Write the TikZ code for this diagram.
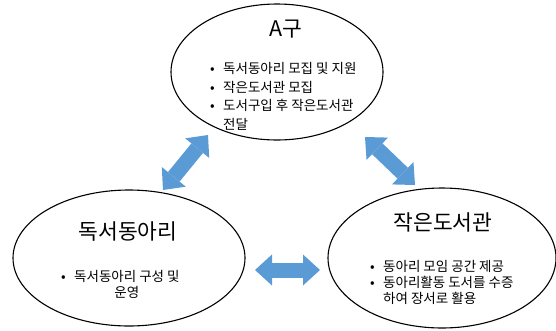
\documentclass[tikz,border=0pt]{standalone}
\usepackage{fontspec}
\setmainfont{Noto Sans CJK KR}
\usetikzlibrary{shapes.geometric}
\usetikzlibrary{arrows.meta}
\definecolor{arrblue}{RGB}{91,155,213}
\newcommand{\bul}{\makebox[13pt][l]{\textbullet}}
\tikzset{
  roundbox/.style={ellipse, draw=black, line width=1.1pt, inner sep=0pt},
  titletxt/.style={font=\fontsize{21.5}{24}\selectfont, inner sep=0pt},
  listtxt/.style={anchor=west, inner sep=0pt},
  blockarr/.style={arrblue, line width=15pt,
    {Triangle[length=17pt,width=31pt,line width=0pt]}-{Triangle[length=17pt,width=31pt,line width=0pt]}}
}

\begin{document}
\begin{tikzpicture}[x=1pt, y=-1pt]
\useasboundingbox (0,0) rectangle (556,330);
% ellipses
\node[roundbox, minimum width=212pt, minimum height=136pt] (gu) at (277,72) {};
\node[roundbox, minimum width=232pt, minimum height=136pt] (club) at (129,258) {};
\node[roundbox, minimum width=228pt, minimum height=140pt] (lib) at (442,258) {};
% titles
\node[titletxt] (gutitle) at (286,29) {A구};
\node[titletxt] (clubtitle) at (128,232) {독서동아리};
\node[titletxt] (libtitle) at (443,222) {작은도서관};
% lists
\node[listtxt, font=\fontsize{13.5}{18.5}\selectfont] (gulist) at (210,98) {%
  \begin{tabular}{@{}l@{}l@{}}
  \bul & 독서동아리 모집 및 지원\\
  \bul & 작은도서관 모집\\
  \bul & 도서구입 후 작은도서관\\
       & 전달
  \end{tabular}};
\node[listtxt, font=\fontsize{13.5}{16}\selectfont] (clublist) at (61,286) {%
  \begin{tabular}{@{}l@{}c@{}}
  \bul & 독서동아리 구성 및\\
       & 운영
  \end{tabular}};
\node[listtxt, font=\fontsize{13.5}{15.5}\selectfont] (liblist) at (370,284.5) {%
  \begin{tabular}{@{}l@{}l@{}}
  \bul & 동아리 모임 공간 제공\\
  \bul & 동아리활동 도서를 수증\\
       & 하여 장서로 활용
  \end{tabular}};
% arrows
\coordinate (ga) at (208,135);
\coordinate (ca) at (163,190);
\coordinate (gb) at (365,137);
\coordinate (lb) at (415,185);
\coordinate (cc) at (255,270);
\coordinate (lc) at (320,270);
\draw[blockarr] (ca) -- (ga);
\draw[blockarr] (gb) -- (lb);
\draw[blockarr] (cc) -- (lc);
\end{tikzpicture}
\end{document}
